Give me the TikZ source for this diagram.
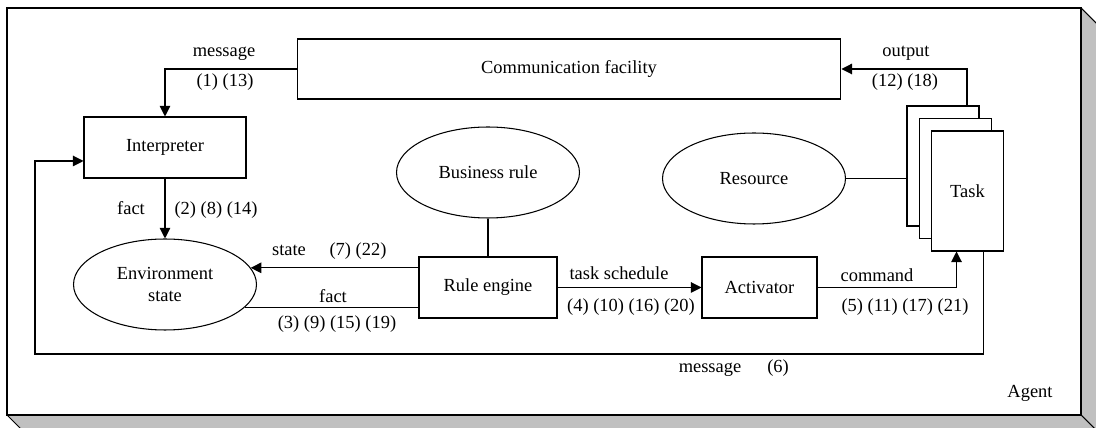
\documentclass[tikz,border=0pt]{standalone}
\usepackage{fontspec}
\setmainfont{Liberation Serif}
\usetikzlibrary{positioning, arrows.meta, shapes.geometric}
\definecolor{agentgray}{HTML}{C0C0C0}
\tikzstyle{block} = [rectangle, draw, fill=white, inner sep=0pt, minimum height=1.22cm]
\tikzstyle{oval} = [ellipse, draw, fill=white, inner sep=0pt, align=center, minimum width=3.66cm, minimum height=1.82cm]
\tikzstyle{taskbox} = [rectangle, draw, fill=white, inner sep=0pt, minimum width=1.44cm, minimum height=2.4cm]
\tikzstyle{lbl} = [inner sep=1pt, text height=7pt, text depth=2pt]
\tikzstyle{arrow} = [line width=0.6pt, -{Triangle[length=6pt, width=6pt]}]
\tikzstyle{line} = [line width=0.6pt]

\begin{document}
\begin{tikzpicture}[x=0.02cm, y=-0.02cm, line width=0.6pt]
    \tikzstyle{every node}=[font=\fontsize{10.5}{12.5}\selectfont]
    \useasboundingbox (0,0) rectangle (1096,428);
    \clip (0,0) rectangle (1096,428);
    % agent frame
    \fill[agentgray] (7,415) -- (1081,415) -- (1081,8) -- (1097,24) -- (1097,431) -- (23,431) -- cycle;
    \draw (1081,8) -- (1097,24);
    \draw (1081,415) -- (1097,431);
    \draw (7,415) -- (23,431);
    \draw[fill=white] (7,8) rectangle (1081,415);

    \node (comm) [block, minimum width=10.88cm, minimum height=1.2cm] at (569,69) {Communication facility};
    \node (interp) [block, minimum width=3.24cm] at (165,147.5) {Interpreter};
    \node (env) [oval] at (165,284.5) {Environment\\state};
    \node (business) [oval] at (488,172.5) {Business rule};
    \node (engine) [block, minimum width=2.76cm] at (488,287.5) {Rule engine};
    \node (activator) [block, minimum width=2.3cm] at (759.5,287.5) {Activator};
    \node (resource) [oval] at (754,178.5) {Resource};
    \node (taskA) [taskbox] at (943,166) {};
    \node (taskB) [taskbox] at ([shift={(12.5,12.5)}]taskA.center) {};
    \node (taskC) [taskbox] at ([shift={(12,12.5)}]taskB.center) {Task};
    \node (agent) [lbl] at (1030,393) {Agent};

    \coordinate (loopL) at (35,354);

    \draw [arrow] (comm) -| (interp);
    \draw [arrow] (interp) -- (env);
    \draw [arrow] (env.11 -| engine.west) -- (env.11);
    \draw [line] (env.-16 -| engine.west) -- (env.-16);
    \draw [line] (business) -- (engine);
    \draw [arrow] (engine) -- (activator);
    \draw [arrow] (activator) -| ([xshift=-0.22cm]taskC.south);
    \draw [line] (resource.east) -- (resource.east -| taskA.west);
    \draw [arrow] ([xshift=0.48cm]taskA.north) |- (comm.east);
    \draw [arrow] ([xshift=0.32cm]taskC.south) |- (loopL) |- ([yshift=-0.27cm]interp.west);

    % labels
    \node (l1) [lbl] at (224,52) {message};
    \node (l1n) [lbl] at (225,82) {(1) (13)};
    \node (l2) [lbl] at (131,210) {fact};
    \node (l2n) [lbl] at (216,210) {(2) (8) (14)};
    \node (l3) [lbl] at (289,251) {state};
    \node (l3n) [lbl] at (358,251) {(7) (22)};
    \node (l4) [lbl] at (333,298) {fact};
    \node (l4n) [lbl] at (337,324) {(3) (9) (15) (19)};
    \node (l5) [lbl] at (619,275) {task schedule};
    \node (l5n) [lbl] at (631,307) {(4) (10) (16) (20)};
    \node (l6) [lbl] at (877,277) {command};
    \node (l6n) [lbl] at (905,307) {(5) (11) (17) (21)};
    \node (l7) [lbl] at (906,52) {output};
    \node (l7n) [lbl] at (905,82) {(12) (18)};
    \node (l8) [lbl] at (710,368) {message};
    \node (l8n) [lbl] at (778,368) {(6)};
\end{tikzpicture}
\end{document}
